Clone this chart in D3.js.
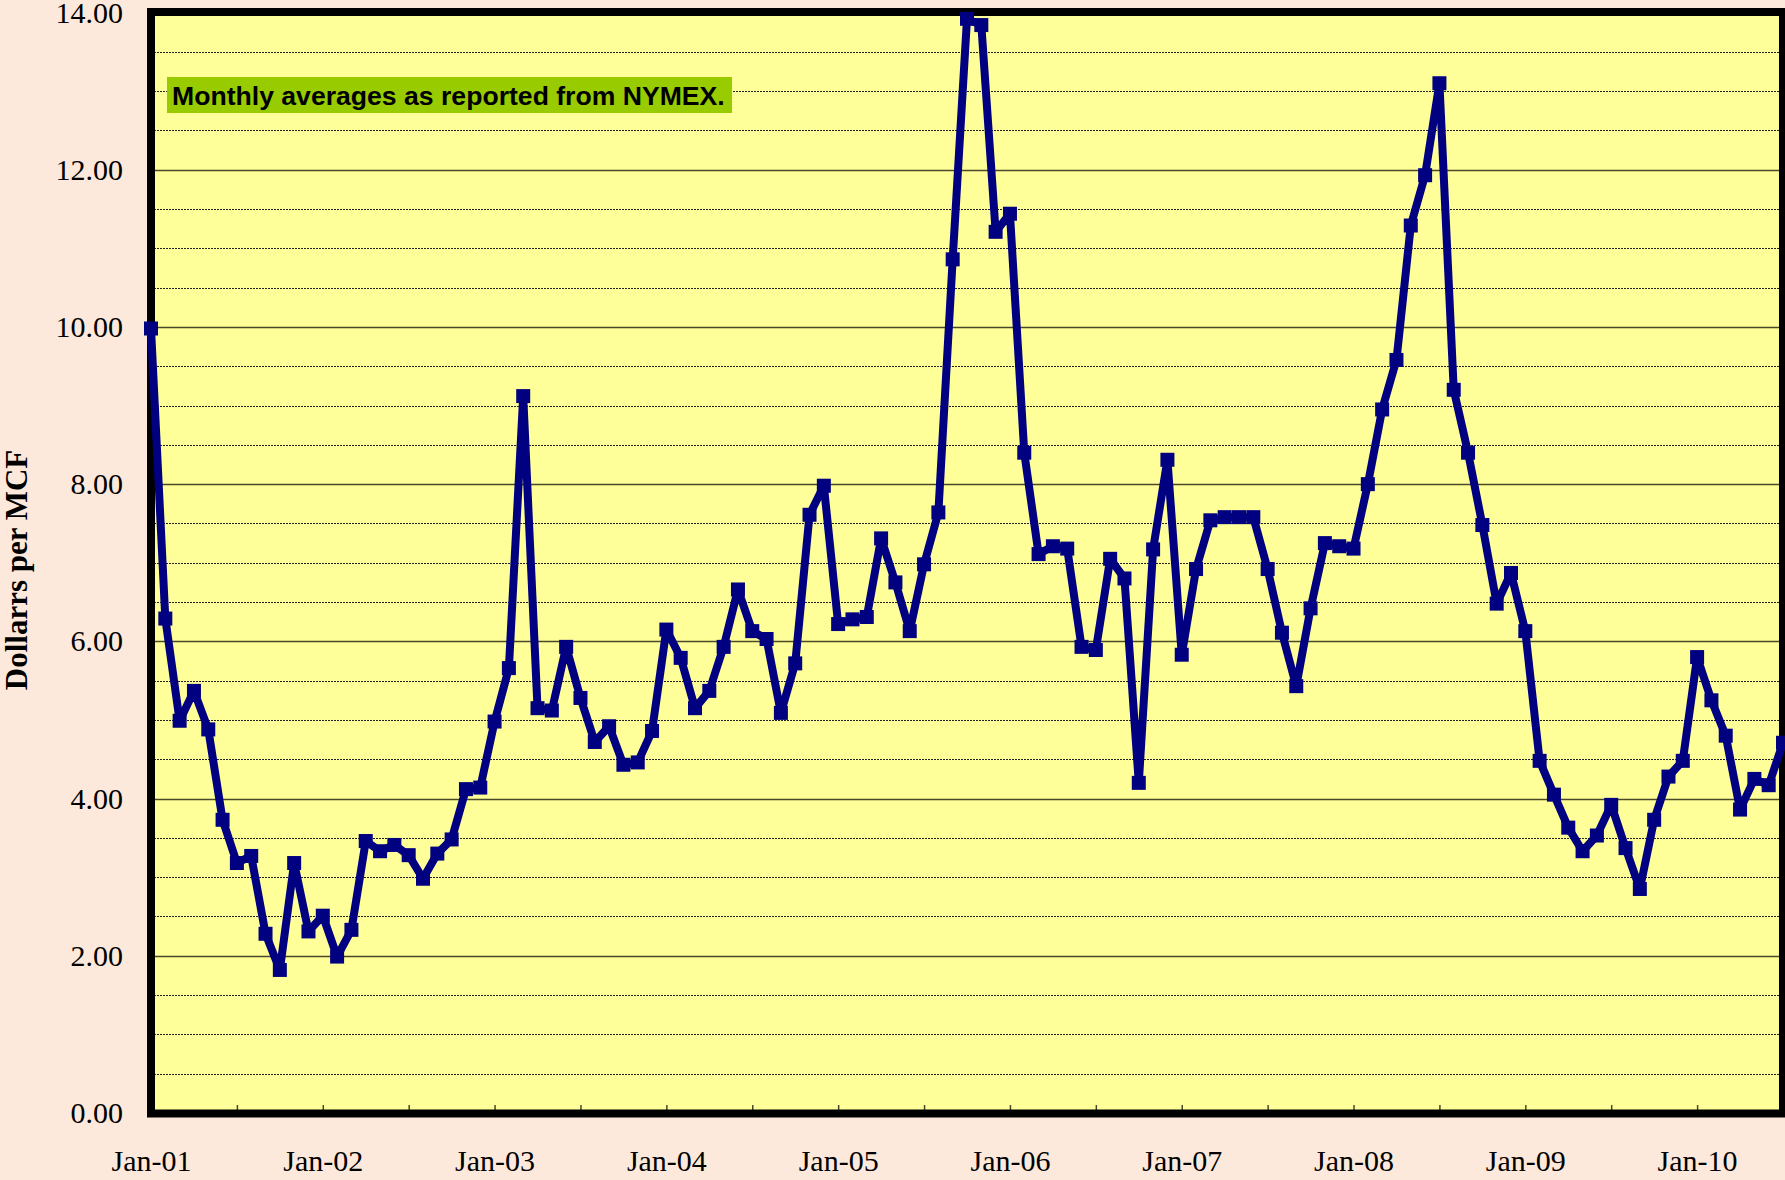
<!DOCTYPE html>
<html>
<head>
<meta charset="utf-8">
<script src="https://cdn.jsdelivr.net/npm/d3@7"></script>
<style>
  body { margin: 0; background: #fde9db; }
  svg { display: block; }
</style>
</head>
<body>
<div id="chart"></div>
<script>
// monthly NYMEX natural gas averages, Jan 2001 .. Jul 2010 ($/MCF)
const prices = [
  9.98, 6.29, 4.99, 5.37, 4.88, 3.73, 3.18, 3.27, 2.28, 1.82, 3.18, 2.31,
  2.51, 1.99, 2.33, 3.46, 3.33, 3.41, 3.28, 2.98, 3.30, 3.48, 4.12, 4.14,
  4.98, 5.66, 9.12, 5.15, 5.12, 5.93, 5.28, 4.72, 4.92, 4.43, 4.46, 4.86,
  6.15, 5.79, 5.15, 5.37, 5.93, 6.66, 6.13, 6.03, 5.09, 5.72, 7.61, 7.98,
  6.22, 6.28, 6.31, 7.31, 6.75, 6.13, 6.98, 7.64, 10.86, 13.92, 13.84, 11.21,
  11.44, 8.40, 7.11, 7.21, 7.18, 5.93, 5.89, 7.05, 6.80, 4.20, 7.17, 8.31,
  5.83, 6.92, 7.54, 7.58, 7.58, 7.58, 6.92, 6.11, 5.43, 6.42, 7.25, 7.21,
  7.18, 8.00, 8.95, 9.58, 11.29, 11.93, 13.10, 9.20, 8.40, 7.48, 6.48, 6.87,
  6.13, 4.48, 4.05, 3.63, 3.33, 3.53, 3.92, 3.37, 2.85, 3.73, 4.28, 4.48,
  5.80, 5.25, 4.80, 3.86, 4.25, 4.17, 4.71
];
const yearLabels = ["Jan-01", "Jan-02", "Jan-03", "Jan-04", "Jan-05",
                    "Jan-06", "Jan-07", "Jan-08", "Jan-09", "Jan-10"];
const yTicks = [0, 2, 4, 6, 8, 10, 12, 14];
const note = "Monthly averages as reported from NYMEX.";

const width = 1785, height = 1180;
const plotLeft = 151, plotRight = 1783, plotTop = 12.5, plotBottom = 1113;

const x = d3.scaleLinear([0, prices.length - 1], [plotLeft, plotRight]);
const y = d3.scaleLinear([0, 14], [plotBottom, plotTop]);

const svg = d3.select("#chart").append("svg")
  .attr("width", width)
  .attr("height", height)
  .attr("viewBox", [0, 0, width, height]);

svg.append("rect")
  .attr("width", width).attr("height", height)
  .attr("fill", "#fde9db");

// plot area
svg.append("rect")
  .attr("x", plotLeft).attr("y", plotTop)
  .attr("width", plotRight - plotLeft).attr("height", plotBottom - plotTop)
  .attr("fill", "#ffff99");

// gridlines: solid on labelled values, dotted every 0.5
svg.append("g")
  .selectAll("line")
  .data(d3.range(0.5, 14, 0.5))
  .join("line")
  .attr("x1", plotLeft).attr("x2", plotRight)
  .attr("y1", (d) => Math.round(y(d)) + 0.5)
  .attr("y2", (d) => Math.round(y(d)) + 0.5)
  .attr("stroke", (d) => (d % 2 === 0 ? "#4a4a2a" : "#222"))
  .attr("stroke-width", (d) => (d % 2 === 0 ? 1.3 : 1))
  .attr("stroke-dasharray", (d) => (d % 2 === 0 ? null : "2,1"));

// x axis: ticks every 6 months, labels each January
const xAxis = d3.axisBottom(x)
  .tickValues(d3.range(0, prices.length, 6))
  .tickSize(-8)
  .tickPadding(37)
  .tickFormat((d) => (d % 12 === 0 ? yearLabels[d / 12] : ""));

svg.append("g")
  .attr("transform", `translate(0,${plotBottom})`)
  .call(xAxis)
  .call((g) => g.select(".domain").remove())
  .call((g) => g.selectAll(".tick line").attr("stroke", "#4a4a2a").attr("stroke-width", 1.5))
  .call((g) =>
    g.selectAll(".tick text")
      .attr("font-family", "Liberation Serif")
      .attr("font-size", 30)
      .attr("fill", "#000")
  );

// y axis labels
const yAxis = d3.axisLeft(y)
  .tickValues(yTicks)
  .tickSize(0)
  .tickPadding(28)
  .tickFormat(d3.format(".2f"));

svg.append("g")
  .attr("transform", `translate(${plotLeft},0)`)
  .call(yAxis)
  .call((g) => g.select(".domain").remove())
  .call((g) =>
    g.selectAll(".tick text")
      .attr("font-family", "Liberation Serif")
      .attr("font-size", 30)
      .attr("fill", "#000")
  );

svg.append("text")
  .attr("transform", `translate(27,570) rotate(-90)`)
  .attr("text-anchor", "middle")
  .attr("font-family", "Liberation Serif")
  .attr("font-weight", "bold")
  .attr("font-size", 31)
  .text("Dollarrs per MCF");

// black frame
svg.append("rect")
  .attr("x", plotLeft).attr("y", plotTop - 0.5)
  .attr("width", plotRight - plotLeft).attr("height", plotBottom - plotTop + 1)
  .attr("fill", "none")
  .attr("stroke", "#000")
  .attr("stroke-width", 8);

// note box
const noteG = svg.append("g");
noteG.append("rect")
  .attr("x", 167).attr("y", 77)
  .attr("width", 565).attr("height", 36)
  .attr("fill", "#99cc00");
noteG.append("text")
  .attr("x", 172).attr("y", 105)
  .attr("font-family", "Liberation Sans")
  .attr("font-weight", "bold")
  .attr("font-size", 26.6)
  .text(note);

// price line + square markers
const line = d3.line()
  .x((d, i) => x(i))
  .y((d) => y(d));

svg.append("path")
  .datum(prices)
  .attr("d", line)
  .attr("fill", "none")
  .attr("stroke", "#000080")
  .attr("stroke-width", 8)
  .attr("stroke-linejoin", "round");

svg.append("g")
  .selectAll("rect")
  .data(prices)
  .join("rect")
  .attr("x", (d, i) => x(i) - 7)
  .attr("y", (d) => y(d) - 7)
  .attr("width", 14)
  .attr("height", 14)
  .attr("fill", "#000080");
</script>
</body>
</html>
